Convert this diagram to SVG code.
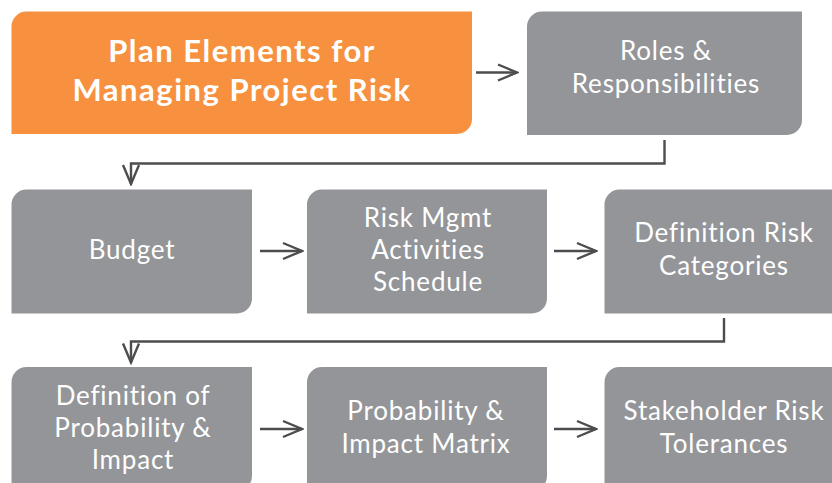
<svg xmlns="http://www.w3.org/2000/svg" width="832" height="483" viewBox="0 0 832 483">
<defs>
<style>
.box{fill:#939598}
.hub{fill:#F79140}
.t{font-family:Lato,"Noto Sans",sans-serif;font-size:26px;font-weight:normal;letter-spacing:0.8px;fill:#ffffff;text-anchor:middle}
.title{font-family:Lato,"Noto Sans",sans-serif;font-size:31px;font-weight:bold;letter-spacing:1.5px;fill:#ffffff;text-anchor:middle}
.c{fill:none;stroke:#4D4D4F;stroke-width:2.4}
</style>
<marker id="ah" viewBox="0 0 22 20" refX="20" refY="10" markerWidth="22" markerHeight="20" markerUnits="userSpaceOnUse" orient="auto">
<path d="M1,2 L20,10 L1,18" fill="none" stroke="#4D4D4F" stroke-width="2.4"/>
</marker>
</defs>
<g id="hub">
<path class="hub" d="M26.5,11.5 H472 V119 A15,15 0 0 1 457,134 H11.5 V26.5 A15,15 0 0 1 26.5,11.5 Z"/>
<text class="title" x="242" y="62">Plan Elements for</text>
<text class="title" x="242" y="101">Managing Project Risk</text>
</g>
<g id="roles">
<path class="box" d="M542,11.5 H802 V120 A15,15 0 0 1 787,135 H527 V26.5 A15,15 0 0 1 542,11.5 Z"/>
<text class="t" x="666" y="60">Roles &amp;</text>
<text class="t" x="666" y="93">Responsibilities</text>
</g>
<g id="budget">
<path class="box" d="M26.5,189.5 H252 V298.5 A15,15 0 0 1 237,313.5 H11.5 V204.5 A15,15 0 0 1 26.5,189.5 Z"/>
<text class="t" x="132" y="259">Budget</text>
</g>
<g id="schedule">
<path class="box" d="M322,189.5 H547 V298.5 A15,15 0 0 1 532,313.5 H307 V204.5 A15,15 0 0 1 322,189.5 Z"/>
<text class="t" x="428" y="227">Risk Mgmt</text>
<text class="t" x="428" y="259">Activities</text>
<text class="t" x="428" y="291">Schedule</text>
</g>
<g id="categories">
<path class="box" d="M619.5,189.5 H845 V298.5 A15,15 0 0 1 830,313.5 H604.5 V204.5 A15,15 0 0 1 619.5,189.5 Z"/>
<text class="t" x="724" y="242">Definition Risk</text>
<text class="t" x="724" y="275">Categories</text>
</g>
<g id="definition">
<path class="box" d="M26.5,367 H252 V476 A15,15 0 0 1 237,491 H11.5 V382 A15,15 0 0 1 26.5,367 Z"/>
<text class="t" x="133" y="405">Definition of</text>
<text class="t" x="133" y="437">Probability &amp;</text>
<text class="t" x="133" y="469">Impact</text>
</g>
<g id="matrix">
<path class="box" d="M322,367 H547 V476 A15,15 0 0 1 532,491 H307 V382 A15,15 0 0 1 322,367 Z"/>
<text class="t" x="426" y="420">Probability &amp;</text>
<text class="t" x="426" y="453">Impact Matrix</text>
</g>
<g id="tolerances">
<path class="box" d="M619.5,367 H845 V476 A15,15 0 0 1 830,491 H604.5 V382 A15,15 0 0 1 619.5,367 Z"/>
<text class="t" x="724" y="420">Stakeholder Risk</text>
<text class="t" x="724" y="453">Tolerances</text>
</g>
<g id="connectors">
<path class="c" d="M476,72.5 H517" marker-end="url(#ah)"/>
<path class="c" d="M664.5,140 V163.5 H131 V184" marker-end="url(#ah)"/>
<path class="c" d="M260,251 H302" marker-end="url(#ah)"/>
<path class="c" d="M554,251 H596" marker-end="url(#ah)"/>
<path class="c" d="M724,318 V341.5 H131 V362.5" marker-end="url(#ah)"/>
<path class="c" d="M260,429 H302" marker-end="url(#ah)"/>
<path class="c" d="M554,429 H596" marker-end="url(#ah)"/>
</g>
</svg>
